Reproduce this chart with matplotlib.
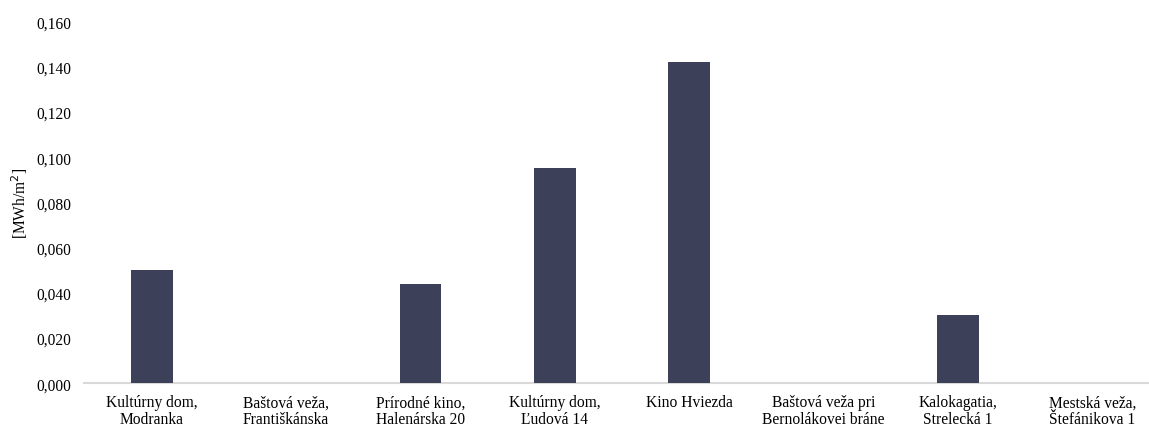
import matplotlib
matplotlib.use("Agg")
import matplotlib.pyplot as plt
from matplotlib.ticker import FuncFormatter

plt.rcParams['font.family'] = ['Liberation Serif', 'DejaVu Serif']

categories = [
    "Kultúrny dom,\nModranka",
    "Baštová veža,\nFrantiškánska",
    "Prírodné kino,\nHalenárska 20",
    "Kultúrny dom,\nĽudová 14",
    "Kino Hviezda",
    "Baštová veža pri\nBernolákovei bráne",
    "Kalokagatia,\nStrelecká 1",
    "Mestská veža,\nŠtefánikova 1",
]
values = [0.050, 0.0, 0.044, 0.095, 0.142, 0.0, 0.030, 0.0]
y_ticks = [0.000, 0.020, 0.040, 0.060, 0.080, 0.100, 0.120, 0.140, 0.160]

W, H = 1149, 427
fig = plt.figure(figsize=(W / 100, H / 100), dpi=100)
left, right = 84.5, 84.5 + 8 * 134.4
top, bottom = 22.5, 384.3
ax = fig.add_axes([left / W, (H - bottom) / H, (right - left) / W, (bottom - top) / H])

x = list(range(len(categories)))
ax.bar(x, values, width=0.31, color="#3C4059", zorder=3)

ax.set_xlim(-0.5, len(categories) - 0.5)
ax.set_ylim(0, 0.16)
ax.set_yticks(y_ticks)
ax.yaxis.set_major_formatter(FuncFormatter(lambda v, p: f"{v:.3f}".replace(".", ",")))
ax.set_xticks(x)
ax.set_xticklabels(categories, linespacing=1.04)

for s in ("top", "right", "left"):
    ax.spines[s].set_visible(False)
ax.spines["bottom"].set_color("#D9D9D9")
ax.spines["bottom"].set_linewidth(1.5)
ax.tick_params(axis="both", length=0, labelsize=11.2, colors="#000000")
ax.tick_params(axis="y", pad=9.2)
ax.tick_params(axis="x", pad=8)

ax.set_ylabel("[MWh/m$^2$]", fontsize=11.2, labelpad=5)

fig.savefig("out.png", dpi=100, facecolor="white")
